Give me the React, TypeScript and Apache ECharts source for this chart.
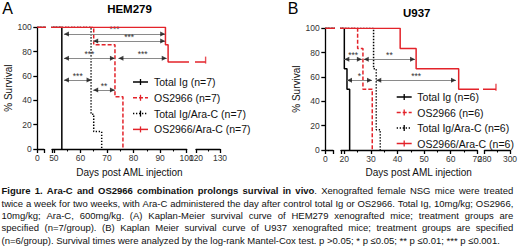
import React, { useEffect, useRef } from "react";
import * as echarts from "echarts";

// ---------------- Data ----------------
const groupNames = ["Total Ig", "OS2966", "Total Ig/Ara-C", "OS2966/Ara-C"];
const hemN = 7;
const u937N = 6;

// Kaplan-Meier curves: [day, % survival]
const hemTotalIg = [[0, 100], [53, 0]];
const hemOS2966 = [[0, 100], [65, 85.7], [73, 42.9], [76, 0]];
const hemTotalIgAraC = [[0, 100], [64, 28.6], [65, 14.3], [68, 0]];
const hemOS2966AraC = [[0, 100], [92, 85.7], [93, 71.4], [124, 71.4]];

const u937TotalIg = [[0, 100], [20, 66.7], [21, 50], [22, 0]];
const u937OS2966 = [[0, 100], [25, 83.3], [27, 50], [30.5, 0]];
const u937TotalIgAraC = [[0, 100], [31, 66.7], [32, 16.7], [33.5, 0]];
const u937OS2966AraC = [[0, 100], [41, 83.3], [47, 66.7], [63, 50], [289, 50]];

// censored at last point
const hemCensored = [false, false, false, true];
const u937Censored = [false, false, false, true];

// log-rank comparisons: [from day, to day, level %, significance]
const hemComparisons: [number, number, number, string][] = [
  [53.8, 91.9, 94.5, "***"],
  [64.8, 91.9, 88.7, "***"],
  [53.8, 73, 74.5, "***"],
  [74.3, 92.5, 74.5, "***"],
  [53.8, 64.2, 56.6, "***"],
  [64.8, 73, 48.4, "**"],
];
const u937Comparisons: [number, number, number, string][] = [
  [20, 26.6, 74.5, "***"],
  [27.3, 46.6, 74.5, "**"],
  [21, 30.4, 57.3, "*"],
  [32, 62, 57.3, "***"],
];

// tick labels
const hemSeg1Labels = [0];
const hemSeg2Labels = [50, 60, 70, 80, 90, 100];
const hemSeg2Minor = [55, 65, 75, 85, 95];
const hemSeg3Labels = [120, 130];
const hemSeg3Minor = [125];
const u937Seg1Labels = [0];
const u937Seg2Labels = [20, 30, 40, 50, 60, 70];
const u937Seg2Minor = [25, 35, 45, 55, 65];
const u937Seg3Labels = [280, 300];
const u937Seg3Minor = [290];

const panelTitles = ["HEM279", "U937"];
const panelLetters = ["A", "B"];
const xAxisTitle = "Days post AML injection";
const yAxisTitle = "% Survival";

const captionBold = "Figure 1. Ara-C and OS2966 combination prolongs survival in vivo";
const captionLines = [
  "Figure 1. Ara-C and OS2966 combination prolongs survival in vivo. Xenografted female NSG mice were treated",
  "twice a week for two weeks, with Ara-C administered the day after control total Ig or OS2966. Total Ig, 10mg/kg; OS2966,",
  "10mg/kg; Ara-C, 600mg/kg. (A) Kaplan-Meier survival curve of HEM279 xenografted mice; treatment groups are",
  "specified (n=7/group). (B)  Kaplan Meier survival curve of U937 xenografted mice; treatment groups are specified",
  "(n=6/group). Survival times were analyzed by the log-rank Mantel-Cox test. p >0.05; * p \u22640.05; ** p \u22640.01; *** p \u22640.001.",
];

// ---------------- Styles ----------------
const FONT = '"Liberation Sans", Arial, Helvetica, sans-serif';
const RED = "#e3232a";
const BLACK = "#000000";
const groupStyles: { color: string; dash: any }[] = [
  { color: BLACK, dash: "solid" },
  { color: RED, dash: [4, 2] },
  { color: BLACK, dash: [1.3, 1.7] },
  { color: RED, dash: "solid" },
];

export default function App() {
  const ref = useRef<HTMLDivElement>(null);

  useEffect(() => {
    if (!ref.current) return;
    const chart = echarts.init(ref.current, null, { renderer: "svg" });

    const panels = [
      {
        top: 27.3,
        height: 121.7,
        nameGap: 21.5,
        curves: [hemTotalIg, hemOS2966, hemTotalIgAraC, hemOS2966AraC],
        censored: hemCensored,
        comparisons: hemComparisons,
        segs: [
          { left: 37.3, width: 6.7, min: 0, max: 2.5, labels: hemSeg1Labels, minor: [] as number[] },
          { left: 52, width: 134.7, min: 49.3, max: 100, labels: hemSeg2Labels, minor: hemSeg2Minor },
          { left: 196, width: 24, min: 120, max: 130, labels: hemSeg3Labels, minor: hemSeg3Minor },
        ],
      },
      {
        top: 28.3,
        height: 121.7,
        nameGap: 23,
        curves: [u937TotalIg, u937OS2966, u937TotalIgAraC, u937OS2966AraC],
        censored: u937Censored,
        comparisons: u937Comparisons,
        segs: [
          { left: 325.3, width: 7.7, min: 0, max: 2.9, labels: u937Seg1Labels, minor: [] as number[] },
          { left: 341, width: 136.3, min: 18.75, max: 70, labels: u937Seg2Labels, minor: u937Seg2Minor },
          { left: 484.5, width: 25.5, min: 280, max: 300, labels: u937Seg3Labels, minor: u937Seg3Minor },
        ],
      },
    ];

    const grid: any[] = [];
    const xAxis: any[] = [];
    const yAxis: any[] = [];
    const series: any[] = [];

    panels.forEach((p) => {
      p.segs.forEach((s, k) => {
        const g = grid.length;
        grid.push({ left: s.left, top: p.top, width: s.width, height: p.height, containLabel: false, outerBoundsMode: "none" });
        const ticks = Array.from(new Set([s.min, ...s.labels, s.max]));
        const xi = xAxis.length;
        xAxis.push({
          type: "value",
          gridIndex: g,
          min: s.min,
          max: s.max,
          position: "bottom",
          axisLine: { show: true, onZero: false, lineStyle: { color: "#000", width: 1.3 } },
          axisTick: { show: true, length: 4, customValues: ticks, lineStyle: { color: "#000", width: 1.3 } },
          axisLabel: {
            show: true,
            customValues: s.labels,
            fontSize: 8.5,
            color: "#333",
            margin: 4,
            fontFamily: FONT,
            showMinLabel: true,
            showMaxLabel: true,
            hideOverlap: false,
          },
          splitLine: { show: false },
        });
        if (s.minor.length) {
          xAxis.push({
            type: "value",
            gridIndex: g,
            min: s.min,
            max: s.max,
            position: "bottom",
            axisLine: { show: false, onZero: false },
            axisTick: { show: true, length: 2.5, customValues: s.minor, lineStyle: { color: "#000", width: 1.1 } },
            axisLabel: { show: false },
            splitLine: { show: false },
          });
        }
        const yi = yAxis.length;
        if (k === 0) {
          yAxis.push({
            type: "value",
            gridIndex: g,
            min: 0,
            max: 100,
            interval: 20,
            position: "left",
            name: yAxisTitle,
            nameLocation: "middle",
            nameGap: p.nameGap,
            nameTextStyle: { fontSize: 10, color: "#111", fontFamily: FONT },
            axisLine: { show: true, lineStyle: { color: "#000", width: 1.3 } },
            axisTick: { show: true, length: 4, lineStyle: { color: "#000", width: 1.3 } },
            axisLabel: { fontSize: 8.5, color: "#333", margin: 5.5, fontFamily: FONT },
            splitLine: { show: false },
          });
        } else {
          yAxis.push({ type: "value", gridIndex: g, min: 0, max: 100, interval: 20, show: false, splitLine: { show: false } });
        }

        p.curves.forEach((c, i) => {
          const st = groupStyles[i];
          const ser: any = {
            type: "line",
            xAxisIndex: xi,
            yAxisIndex: yi,
            data: c,
            step: "end",
            symbol: "none",
            silent: true,
            clip: true,
            z: 2 + i,
            lineStyle: { color: st.color, width: 1.5, type: st.dash },
          };
          if (k === 1 && i === 0) {
            ser.markLine = {
              silent: true,
              symbol: ["none", "none"],
              animation: false,
              lineStyle: { color: "#8a8a8a", width: 1, type: "solid" },
              label: {
                show: true,
                position: "insideMiddleTop",
                formatter: "{b}",
                distance: 0,
                fontSize: 8.5,
                color: "#333",
                fontFamily: FONT,
              },
              emphasis: { disabled: true },
              data: p.comparisons.map((cmp) => [
                { coord: [cmp[0], cmp[2]], name: cmp[3] },
                { coord: [cmp[1], cmp[2]], name: cmp[3] },
              ]),
            };
          }
          series.push(ser);

          const last = c[c.length - 1];
          if (p.censored[i] && last[0] >= s.min && last[0] <= s.max) {
            series.push({
              type: "scatter",
              xAxisIndex: xi,
              yAxisIndex: yi,
              data: [last],
              symbol: "path://M0,0 L1,0 L1,10 L0,10 Z",
              symbolSize: [1.4, 7],
              symbolOffset: [0, -2],
              silent: true,
              itemStyle: { color: st.color },
              z: 10,
            });
          }
        });

        if (k === 1) {
          series.push({
            type: "scatter",
            xAxisIndex: xi,
            yAxisIndex: yi,
            data: p.comparisons.map((cmp) => [cmp[1], cmp[2]]),
            symbol: "triangle",
            symbolSize: [5, 5],
            symbolRotate: -90,
            symbolOffset: [-2.5, 0],
            silent: true,
            clip: false,
            itemStyle: { color: "#111" },
            z: 12,
          });
          series.push({
            type: "scatter",
            xAxisIndex: xi,
            yAxisIndex: yi,
            data: p.comparisons.map((cmp) => [cmp[0], cmp[2]]),
            symbol: "triangle",
            symbolSize: [5, 5],
            symbolRotate: 90,
            symbolOffset: [2.5, 0],
            silent: true,
            clip: false,
            itemStyle: { color: "#111" },
            z: 12,
          });
        }
      });
    });

    // ---------------- graphics: titles, legend, caption ----------------
    const elements: any[] = [];
    const txt = (x: number, y: number, text: string, opts: any = {}) => ({
      type: "text",
      x,
      y,
      silent: true,
      style: {
        text,
        fontFamily: FONT,
        fontSize: opts.fontSize || 10,
        fontWeight: opts.fontWeight || "normal",
        fill: opts.fill || "#000",
        align: opts.align || "left",
        verticalAlign: "middle",
        textAlign: opts.align || "left",
        textVerticalAlign: "middle",
        rich: opts.rich,
      },
    });

    elements.push(txt(7.5, 8.8, panelLetters[0], { fontSize: 16, align: "center" }));
    elements.push(txt(293, 8.8, panelLetters[1], { fontSize: 16, align: "center" }));
    elements.push(txt(129.5, 9.3, panelTitles[0], { fontSize: 11.5, fontWeight: "bold", align: "center" }));
    elements.push(txt(416.7, 12.5, panelTitles[1], { fontSize: 11.5, fontWeight: "bold", align: "center" }));
    elements.push(txt(129.5, 172.7, xAxisTitle, { fontSize: 10, align: "center", fill: "#111" }));
    elements.push(txt(418.7, 172.7, xAxisTitle, { fontSize: 10, align: "center", fill: "#111" }));

    const legendLayouts = [
      { x1: 133, x2: 148, tx: 154, ys: [82, 97.8, 113.6, 129.4], n: hemN },
      { x1: 396.7, x2: 411.7, tx: 417.3, ys: [97, 112.5, 128, 143.5], n: u937N },
    ];
    legendLayouts.forEach((L) => {
      groupNames.forEach((name, i) => {
        const st = groupStyles[i];
        const yy = L.ys[i];
        const xc = (L.x1 + L.x2) / 2;
        elements.push({
          type: "line",
          silent: true,
          shape: { x1: L.x1, y1: yy, x2: L.x2, y2: yy },
          style: { stroke: st.color, lineWidth: 1.5, lineDash: st.dash === "solid" ? null : st.dash },
        });
        elements.push({
          type: "line",
          silent: true,
          shape: { x1: xc, y1: yy - 3, x2: xc, y2: yy + 3 },
          style: { stroke: st.color, lineWidth: 1.3 },
        });
        elements.push(txt(L.tx, yy, `${name} (n=${L.n})`, { fontSize: 10.5, fill: "#111" }));
      });
    });

    // caption with justified lines
    const canvas = document.createElement("canvas");
    const ctx = canvas.getContext("2d")!;
    const measure = (t: string, bold: boolean, fs: number) => {
      ctx.font = `${bold ? "bold " : ""}${fs}px ${FONT}`;
      return ctx.measureText(t).width;
    };
    const lastLine = captionLines[captionLines.length - 1];
    let capFs = (9 * 505) / measure(lastLine, false, 9);
    capFs = Math.max(7.5, Math.min(9.5, capFs));
    const capLeft = 1.5;
    const capRight = 513.3;
    const capYs = [190.8, 203.1, 215.4, 227.7, 240];
    captionLines.forEach((line, li) => {
      const boldLen = li === 0 ? captionBold.length : 0;
      const toks: { text: string; width: number; bold: string; rest: string }[] = [];
      const re = /\S+/g;
      let m: RegExpExecArray | null;
      while ((m = re.exec(line))) {
        const start = m.index;
        const w = m[0];
        const bLen = Math.max(0, Math.min(w.length, boldLen - start));
        const bold = w.slice(0, bLen);
        const rest = w.slice(bLen);
        const width = (bold ? measure(bold, true, capFs) : 0) + (rest ? measure(rest, false, capFs) : 0);
        toks.push({ text: w, width, bold, rest });
      }
      const total = toks.reduce((a, t) => a + t.width, 0);
      const justify = li < captionLines.length - 1;
      const gap = justify ? (capRight - capLeft - total) / (toks.length - 1) : measure(" ", false, capFs);
      let x = capLeft;
      toks.forEach((t) => {
        let text: string;
        if (t.bold && t.rest) text = `{b|${t.bold}}{n|${t.rest}}`;
        else if (t.bold) text = `{b|${t.bold}}`;
        else text = `{n|${t.rest}}`;
        elements.push({
          type: "text",
          x,
          y: capYs[li],
          silent: true,
          style: {
            text,
            fontFamily: FONT,
            fontSize: capFs,
            fill: "#111",
            verticalAlign: "middle",
            textVerticalAlign: "middle",
            rich: {
              b: { fontWeight: "bold", fontSize: capFs, fontFamily: FONT, fill: "#111", color: "#111" },
              n: { fontWeight: "normal", fontSize: capFs, fontFamily: FONT, fill: "#111", color: "#111" },
            },
          },
        });
        x += t.width + gap;
      });
    });

    chart.setOption({
      animation: false,
      backgroundColor: "#ffffff",
      grid,
      xAxis,
      yAxis,
      series,
      graphic: { elements },
    });

    return () => chart.dispose();
  }, []);

  return (
    <div
      ref={ref}
      style={{ position: "fixed", left: 0, top: 0, width: 520, height: 247, background: "#fff" }}
    />
  );
}
